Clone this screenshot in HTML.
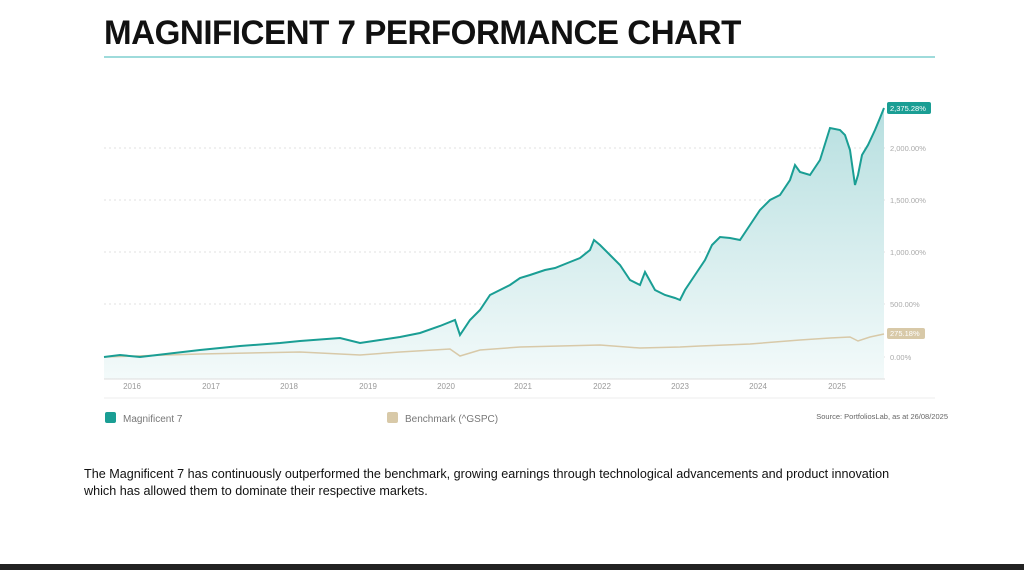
<!DOCTYPE html>
<html><head><meta charset="utf-8"><style>
body{margin:0;width:1024px;height:570px;background:#fff;overflow:hidden;position:relative;font-family:"Liberation Sans",sans-serif}
.t{position:absolute;left:104px;top:14px;font-size:34px;font-weight:bold;color:#111;letter-spacing:-0.5px;transform:scaleX(0.975);transform-origin:left}
.p{position:absolute;left:84px;top:466px;font-size:12.6px;color:#111;line-height:17px;white-space:nowrap}
</style></head><body>
<div class="t">MAGNIFICENT 7 PERFORMANCE CHART</div>
<svg width="1024" height="570" style="position:absolute;left:0;top:0">
<defs><linearGradient id="g" x1="0" y1="0" x2="0" y2="1"><stop offset="0" stop-color="#b7dfe0"/><stop offset="1" stop-color="#f3fafa"/></linearGradient></defs>
<line x1="104" y1="57" x2="935" y2="57" stroke="#7fcfcf" stroke-width="1.5"/>
<g stroke="#e2e2e2" stroke-dasharray="2,3"><line x1="104" y1="148" x2="885" y2="148"/><line x1="104" y1="200" x2="885" y2="200"/><line x1="104" y1="252" x2="885" y2="252"/><line x1="104" y1="304" x2="885" y2="304"/><line x1="104" y1="357" x2="885" y2="357"/></g>
<path d="M104,357 L120,355 L140,357 L200,350 L240,346 L280,343 L300,341 L340,338 L360,343 L380,340 L400,337 L420,333 L440,326 L455,320 L460,335 L470,320 L480,310 L490,295 L500,290 L510,285 L520,278 L530,275 L545,270 L555,268 L570,262 L580,258 L590,250 L594,240 L600,245 L610,255 L620,265 L630,280 L640,285 L645,272 L655,290 L665,295 L675,298 L680,300 L685,290 L695,275 L705,260 L712,245 L720,237 L730,238 L740,240 L750,225 L760,210 L770,200 L780,195 L790,180 L795,165 L800,172 L810,175 L820,160 L830,128 L840,130 L845,135 L850,150 L855,185 L858,175 L862,155 L868,145 L875,130 L880,118 L884,108 L884,379 L104,379Z" fill="url(#g)"/>
<polyline points="104,357 200,354 300,352 360,355 400,352 450,349 460,356 480,350 520,347 600,345 640,348 680,347 700,346 750,344 800,340 830,338 850,337 858,341 870,337 884,334" fill="none" stroke="#d8c9a8" stroke-width="1.5"/>
<polyline points="104,357 120,355 140,357 200,350 240,346 280,343 300,341 340,338 360,343 380,340 400,337 420,333 440,326 455,320 460,335 470,320 480,310 490,295 500,290 510,285 520,278 530,275 545,270 555,268 570,262 580,258 590,250 594,240 600,245 610,255 620,265 630,280 640,285 645,272 655,290 665,295 675,298 680,300 685,290 695,275 705,260 712,245 720,237 730,238 740,240 750,225 760,210 770,200 780,195 790,180 795,165 800,172 810,175 820,160 830,128 840,130 845,135 850,150 855,185 858,175 862,155 868,145 875,130 880,118 884,108" fill="none" stroke="#1a9e94" stroke-width="2"/>
<line x1="104" y1="379" x2="885" y2="379" stroke="#ddd"/>
<line x1="104" y1="398" x2="935" y2="398" stroke="#eee"/>
<g font-size="8" fill="#999" text-anchor="middle"><text x="132" y="389">2016</text><text x="211" y="389">2017</text><text x="289" y="389">2018</text><text x="368" y="389">2019</text><text x="446" y="389">2020</text><text x="523" y="389">2021</text><text x="602" y="389">2022</text><text x="680" y="389">2023</text><text x="758" y="389">2024</text><text x="837" y="389">2025</text></g>
<g font-size="7.5" fill="#aaa"><text x="890" y="151">2,000.00%</text><text x="890" y="203">1,500.00%</text><text x="890" y="255">1,000.00%</text><text x="890" y="307">500.00%</text><text x="890" y="360">0.00%</text></g>
<rect x="887" y="102" width="44" height="12" rx="2" fill="#1a9e94"/><text x="890" y="111" font-size="7.5" fill="#fff">2,375.28%</text>
<rect x="887" y="328" width="38" height="11" rx="2" fill="#d8c9a8"/><text x="890" y="336" font-size="7.5" fill="#fff">275.18%</text>
<rect x="105" y="412" width="11" height="11" rx="2" fill="#1a9e94"/><text x="123" y="422" font-size="10" fill="#777">Magnificent 7</text>
<rect x="387" y="412" width="11" height="11" rx="2" fill="#d8c9a8"/><text x="405" y="422" font-size="10" fill="#777">Benchmark (^GSPC)</text>
<text x="948" y="419" font-size="7.5" fill="#666" text-anchor="end">Source: PortfoliosLab, as at 26/08/2025</text>
<rect x="0" y="564" width="1024" height="6" fill="#222"/>
</svg>
<div class="p">The Magnificent 7 has continuously outperformed the benchmark, growing earnings through technological advancements and product innovation<br>which has allowed them to dominate their respective markets.</div>
</body></html>
